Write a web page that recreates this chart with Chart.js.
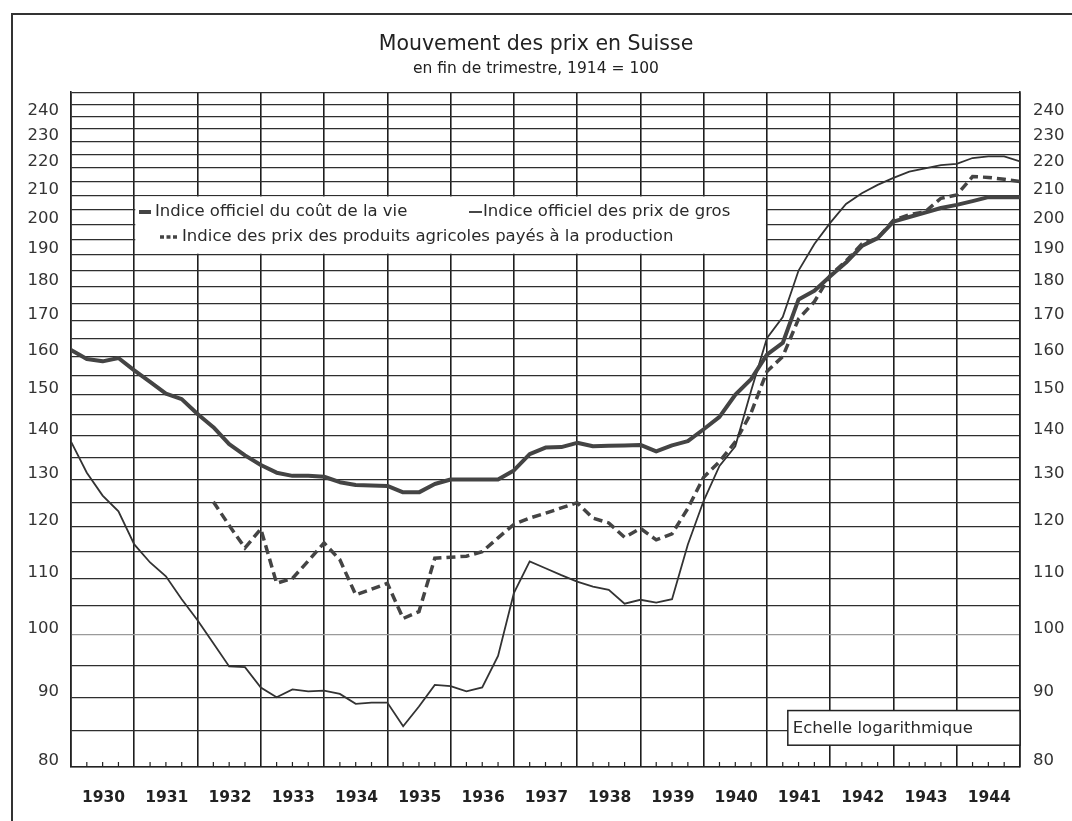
<!DOCTYPE html>
<html>
<head>
<meta charset="utf-8">
<script src="https://cdn.jsdelivr.net/npm/chart.js@4.4.0/dist/chart.umd.min.js"></script>
<style>
  html, body { margin: 0; padding: 0; background: #ffffff; }
  #wrap { position: relative; width: 1072px; height: 821px; }
</style>
</head>
<body>
<div id="wrap"><canvas id="c" width="1072" height="821"></canvas></div>
<script>
// ---- Data (end of quarter, 1914 = 100), first point = end of 1929 ----
const startYear = 1930;
const years = [1930, 1931, 1932, 1933, 1934, 1935, 1936, 1937, 1938, 1939, 1940, 1941, 1942, 1943, 1944];
const yTickLabels = [80, 90, 100, 110, 120, 130, 140, 150, 160, 170, 180, 190, 200, 210, 220, 230, 240];

const seriesNames = [
  'Indice officiel du coût de la vie',
  'Indice officiel des prix de gros',
  'Indice des prix des produits agricoles payés à la production'
];

const costOfLiving = [
  161.8, 159.3, 158.7, 159.6, 156.3, 153.3, 150.3, 148.9, 145.2, 142.0,
  138.0, 135.4, 133.2, 131.5, 130.8, 130.8, 130.6, 129.4, 128.8, 128.7,
  128.6, 127.2, 127.2, 129.0, 130.0, 130.0, 130.0, 130.0, 132.0, 135.7,
  137.2, 137.3, 138.3, 137.5, 137.6, 137.7, 137.8, 136.3, 137.7, 138.7,
  141.5, 144.5, 150.0, 154.0, 160.5, 163.7, 176.2, 178.8, 183.2, 187.5,
  192.8, 195.4, 200.9, 202.5, 204.0, 205.6, 206.7, 208.0, 209.4, 209.4,
  209.4
];

const wholesale = [
  138.6, 131.5, 126.5, 123.2, 116.5, 113.0, 110.4, 106.2, 102.5, 98.6,
  94.8, 94.7, 91.5, 90.0, 91.2, 90.9, 91.0, 90.5, 89.0, 89.2,
  89.2, 85.7, 88.6, 91.9, 91.7, 90.9, 91.5, 96.5, 107.3, 113.2,
  111.9, 110.6, 109.4, 108.5, 107.9, 105.4, 106.1, 105.6, 106.2, 116.5,
  125.4, 133.0, 137.5, 151.0, 165.0, 171.0, 185.0, 193.5, 200.5, 207.0,
  210.8, 213.8, 216.3, 218.6, 219.8, 221.0, 221.5, 223.7, 224.3, 224.3,
  222.4
];

const agricultural = [
  null, null, null, null, null, null, null, null, null, 125.2,
  120.3, 115.8, 119.6, 109.1, 110.0, 113.3, 116.8, 113.5, 107.0, 108.0,
  109.1, 102.8, 104.0, 113.8, 114.0, 114.2, 115.1, 117.8, 120.5, 121.8,
  122.8, 123.9, 125.0, 121.8, 120.8, 117.9, 119.7, 117.4, 118.6, 123.8,
  130.5, 134.0, 138.5, 145.5, 156.0, 160.0, 170.5, 175.5, 183.5, 188.0,
  193.5, 195.4, 201.4, 203.3, 204.3, 209.0, 210.2, 216.8, 216.5, 215.8,
  215.0
];

// quarter index -> position on the time axis
const toPoints = arr => arr.map((v, i) => ({ x: startYear + i / 4, y: v }));

const FONT = "'DejaVu Sans', 'Liberation Sans', sans-serif";
const INK = '#2a2a2a';

const decor = {
  id: 'decor',
  beforeDatasetsDraw(chart) {
    const { ctx, scales: { x, y } } = chart;
    ctx.save();
    // white legend panel (between the 1931/1941 verticals and 210/190 lines)
    const lx1 = x.getPixelForValue(1931), lx2 = x.getPixelForValue(1941);
    const ly1 = y.getPixelForValue(210), ly2 = y.getPixelForValue(190);
    ctx.fillStyle = '#fff';
    ctx.fillRect(lx1 + 1, ly1 + 1, lx2 - lx1 - 2, ly2 - ly1 - 2);

    // "Echelle logarithmique" box
    const ex1 = x.getPixelForValue(1941.33), ex2 = x.getPixelForValue(1945);
    const ey1 = y.getPixelForValue(88), ey2 = y.getPixelForValue(83);
    ctx.fillRect(ex1, ey1, ex2 - ex1, ey2 - ey1);
    ctx.strokeStyle = '#222';
    ctx.lineWidth = 1.5;
    ctx.strokeRect(ex1, ey1, ex2 - ex1, ey2 - ey1);
    ctx.fillStyle = INK;
    ctx.font = '16.5px ' + FONT;
    ctx.textBaseline = 'middle';
    ctx.textAlign = 'left';
    ctx.fillText('Echelle logarithmique', ex1 + 5, (ey1 + ey2) / 2 + 1);

    // quarter ticks along the bottom
    ctx.strokeStyle = '#222';
    ctx.lineWidth = 1.2;
    const yb = y.getPixelForValue(80);
    for (let q = startYear * 4; q <= 1945 * 4; q++) {
      if (q % 4 === 0) continue;
      const px = x.getPixelForValue(q / 4);
      ctx.beginPath();
      ctx.moveTo(px, yb);
      ctx.lineTo(px, yb - 5);
      ctx.stroke();
    }

    // legend entries
    const ds = chart.data.datasets;
    ctx.font = '16.5px ' + FONT;
    ctx.fillStyle = INK;
    const r1 = 212, r2 = 237;
    // thick
    ctx.strokeStyle = ds[0].borderColor; ctx.lineWidth = 4; ctx.setLineDash([]);
    ctx.beginPath(); ctx.moveTo(139, r1); ctx.lineTo(151, r1); ctx.stroke();
    ctx.fillText(ds[0].label, 155, r1);
    // thin
    ctx.strokeStyle = ds[1].borderColor; ctx.lineWidth = 1.8;
    ctx.beginPath(); ctx.moveTo(469, r1); ctx.lineTo(482, r1); ctx.stroke();
    ctx.fillText(ds[1].label, 483, r1);
    // dashed
    ctx.strokeStyle = ds[2].borderColor; ctx.lineWidth = 3.5; ctx.setLineDash([4, 2.5]);
    ctx.beginPath(); ctx.moveTo(160, r2); ctx.lineTo(177, r2); ctx.stroke();
    ctx.setLineDash([]);
    ctx.fillText(ds[2].label, 182, r2);

    // outer frame of the page
    ctx.strokeStyle = '#333';
    ctx.lineWidth = 2;
    ctx.beginPath();
    ctx.moveTo(12, 821); ctx.lineTo(12, 14); ctx.lineTo(1072, 14);
    ctx.stroke();
    ctx.restore();
  }
};

const yTickValues = [];
for (let v = 80; v <= 250; v += 5) yTickValues.push(v);

function yAxis(position) {
  return {
    type: 'logarithmic',
    position: position,
    min: 80,
    max: 250,
    afterBuildTicks: s => { s.ticks = yTickValues.map(v => ({ value: v })); },
    afterFit: s => { s.width = position === 'left' ? 71 : 52; },
    grid: {
      display: position === 'left',
      drawTicks: false,
      color: ctx => (ctx.tick && ctx.tick.value === 100) ? '#9a9a9a' : '#2e2e2e',
      lineWidth: 1.2
    },
    border: { display: true, color: '#222', width: 1.6 },
    ticks: {
      autoSkip: false,
      padding: position === 'left' ? 12 : 13,
      labelOffset: -6,
      color: '#333',
      font: { family: FONT, size: 16.5 },
      callback: v => yTickLabels.includes(v) ? String(v) : ''
    }
  };
}

new Chart(document.getElementById('c'), {
  type: 'line',
  data: {
    datasets: [
      { label: seriesNames[0], data: toPoints(costOfLiving), borderColor: '#444', borderWidth: 4,
        pointRadius: 0, tension: 0, yAxisID: 'y', borderJoinStyle: 'round' },
      { label: seriesNames[1], data: toPoints(wholesale), borderColor: '#333', borderWidth: 1.8,
        pointRadius: 0, tension: 0, yAxisID: 'y' },
      { label: seriesNames[2], data: toPoints(agricultural), borderColor: '#444', borderWidth: 3.5,
        borderDash: [9, 5], pointRadius: 0, tension: 0, yAxisID: 'y', spanGaps: false }
    ]
  },
  options: {
    responsive: false,
    animation: false,
    devicePixelRatio: 1,
    layout: { padding: 0 },
    plugins: {
      legend: { display: false },
      tooltip: { enabled: false },
      title: {
        display: true,
        text: 'Mouvement des prix en Suisse',
        color: '#222',
        font: { family: FONT, size: 20.5, weight: 'normal' },
        padding: { top: 32, bottom: 0 }
      },
      subtitle: {
        display: true,
        text: 'en fin de trimestre, 1914 = 100',
        color: '#222',
        font: { family: FONT, size: 15.5, weight: 'normal' },
        padding: { top: 3, bottom: 14 }
      }
    },
    scales: {
      x: {
        type: 'linear',
        min: 1930,
        max: 1945,
        afterBuildTicks: s => { s.ticks = years.concat([1945]).map(v => ({ value: v })); },
        afterFit: s => { s.height = 54; },
        grid: { drawTicks: false, color: '#1e1e1e', lineWidth: 1.6 },
        border: { display: true, color: '#222', width: 1.6 },
        ticks: {
          autoSkip: false,
          maxRotation: 0,
          padding: 22,
          labelOffset: 32.5,
          color: '#222',
          font: { family: FONT, size: 15.5, weight: 'bold' },
          callback: v => years.includes(v) ? String(v) : ''
        }
      },
      y: yAxis('left'),
      y2: yAxis('right')
    }
  },
  plugins: [decor]
});
</script>
</body>
</html>
